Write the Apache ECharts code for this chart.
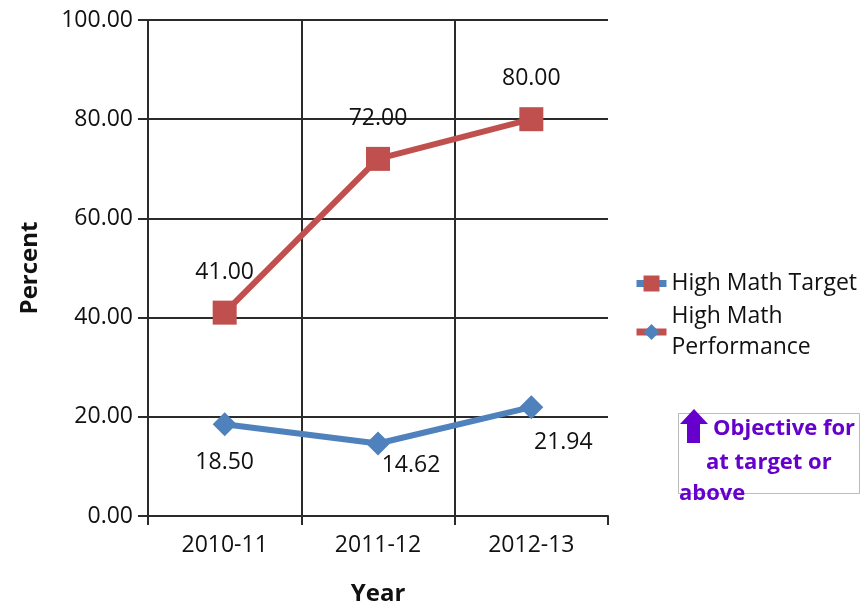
<!DOCTYPE html>
<html>
<head>
<meta charset="utf-8">
<script src="https://cdn.jsdelivr.net/npm/echarts@6/dist/echarts.min.js"></script>
<style>
  html, body { margin: 0; padding: 0; background: #fff; }
  #chart { width: 865px; height: 614px; }
</style>
</head>
<body>
<div id="chart"></div>
<script>
const years = ['2010-11', '2011-12', '2012-13']
const targetValues = [41.00, 72.00, 80.00]
const performanceValues = [18.50, 14.62, 21.94]
// label offsets for the performance values, as placed in the original
const performanceLabelOffsets = [[0, 38], [33, 22], [32, 35]]

const font = '"Open Sans", "Noto Sans", sans-serif'
const gridColor = '#2b2b2b'
const red = '#C0504D'
const blue = '#4F81BD'
const purple = '#6600CC'

const chart = echarts.init(document.getElementById('chart'))

const option = {
  animation: false,
  textStyle: { fontFamily: font },
  grid: { left: 148, right: 257, top: 20, bottom: 98 },
  legend: {
    orient: 'vertical',
    left: 633,
    top: 268,
    padding: 0,
    itemWidth: 30,
    itemHeight: 20,
    itemGap: 2,
    textStyle: { fontSize: 23, color: '#111', fontFamily: font, lineHeight: 31 },
    formatter: name => name === 'High Math Performance' ? 'High Math\nPerformance' : name,
    // the original legend shows each icon with the other series' line colour
    data: [
      { name: 'High Math Target', lineStyle: { color: blue, width: 7 } },
      { name: 'High Math Performance', lineStyle: { color: red, width: 7 } }
    ]
  },
  xAxis: {
    type: 'category',
    data: years,
    boundaryGap: true,
    name: 'Year',
    nameLocation: 'middle',
    nameGap: 66,
    nameTextStyle: { fontSize: 24, fontWeight: 'bold', color: '#111' },
    axisLine: { lineStyle: { color: gridColor, width: 2 } },
    axisTick: { show: true, length: 9, lineStyle: { color: gridColor, width: 2 } },
    axisLabel: { fontSize: 23, color: '#111', margin: 18 },
    splitLine: { show: true, lineStyle: { color: [gridColor, gridColor, gridColor, 'rgba(0,0,0,0)'], width: 2 } }
  },
  yAxis: {
    type: 'value',
    min: 0,
    max: 100,
    interval: 20,
    name: 'Percent',
    nameLocation: 'middle',
    nameGap: 106,
    nameTextStyle: { fontSize: 24, fontWeight: 'bold', color: '#111' },
    axisLine: { show: true, lineStyle: { color: gridColor, width: 2 } },
    axisTick: { show: true, length: 10, lineStyle: { color: gridColor, width: 2 } },
    axisLabel: { fontSize: 23, color: '#111', margin: 15, formatter: v => v.toFixed(2) },
    splitLine: { show: true, lineStyle: { color: gridColor, width: 2 } }
  },
  series: [
    {
      name: 'High Math Target',
      type: 'line',
      data: targetValues,
      symbol: 'rect',
      symbolSize: 24,
      lineStyle: { color: red, width: 6 },
      itemStyle: { color: red },
      label: {
        show: true,
        position: 'top',
        distance: 17,
        fontSize: 23,
        color: '#111',
        formatter: p => p.value.toFixed(2)
      }
    },
    {
      name: 'High Math Performance',
      type: 'line',
      data: performanceValues.map((v, i) => ({
        value: v,
        label: { offset: performanceLabelOffsets[i] }
      })),
      symbol: 'diamond',
      symbolSize: 24,
      lineStyle: { color: blue, width: 6 },
      itemStyle: { color: blue },
      label: {
        show: true,
        position: 'inside',
        fontSize: 23,
        color: '#111',
        formatter: p => p.value.toFixed(2)
      }
    }
  ],
  graphic: [
    {
      type: 'rect',
      left: 678,
      top: 413,
      shape: { width: 181, height: 80 },
      style: { fill: '#fff', stroke: '#bbb', lineWidth: 1 }
    },
    {
      type: 'polygon',
      shape: {
        points: [[694, 409], [708, 424], [700, 424], [700, 443], [687, 443], [687, 424], [680, 424]]
      },
      style: { fill: purple }
    },
    {
      type: 'text',
      left: 713,
      top: 418,
      style: { text: 'Objective for', font: 'bold 22px ' + font, fill: purple }
    },
    {
      type: 'text',
      left: 706,
      top: 452,
      style: { text: 'at target or', font: 'bold 22px ' + font, fill: purple }
    },
    {
      type: 'text',
      left: 679,
      top: 483,
      style: { text: 'above', font: 'bold 22px ' + font, fill: purple }
    }
  ]
}

chart.setOption(option)
</script>
</body>
</html>
